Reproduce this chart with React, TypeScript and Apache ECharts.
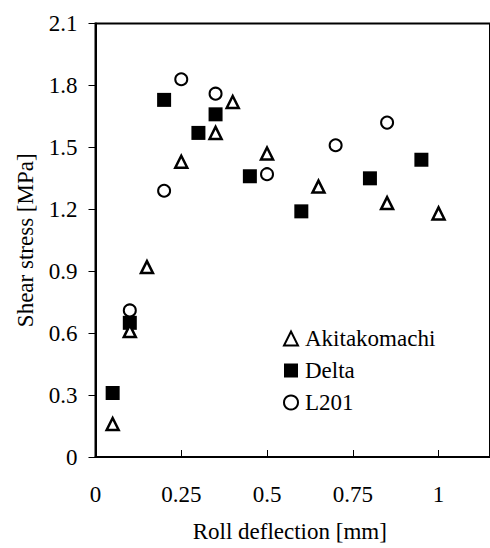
import React, { useEffect, useRef } from "react";
import * as echarts from "echarts";

const akitakomachiX = [0.05, 0.1, 0.15, 0.25, 0.35, 0.4, 0.5, 0.65, 0.85, 1.0];
const akitakomachiY = [0.16, 0.61, 0.92, 1.43, 1.57, 1.72, 1.47, 1.31, 1.23, 1.18];

const deltaX = [0.05, 0.1, 0.2, 0.3, 0.35, 0.45, 0.6, 0.8, 0.95];
const deltaY = [0.31, 0.65, 1.73, 1.57, 1.66, 1.36, 1.19, 1.35, 1.44];

const l201X = [0.1, 0.2, 0.25, 0.35, 0.5, 0.7, 0.85];
const l201Y = [0.71, 1.29, 1.83, 1.76, 1.37, 1.51, 1.62];

const seriesNames = ["Akitakomachi", "Delta", "L201"];
const xTitle = "Roll deflection [mm]";
const yTitle = "Shear stress [MPa]";

const FONT = "Liberation Serif";
const FS = 23;

function pairs(xs: number[], ys: number[]) {
  return xs.map((x, i) => [x, ys[i]]);
}

export default function App() {
  const ref = useRef<HTMLDivElement>(null);
  useEffect(() => {
    if (!ref.current) return;
    const chart = echarts.init(ref.current, null, { renderer: "svg" });
    chart.setOption({
      animation: false,
      backgroundColor: "#ffffff",
      textStyle: { fontFamily: FONT, color: "#000" },
      grid: {
        left: 95.5,
        top: 23.5,
        right: -5,
        bottom: 87,
        show: true,
        borderColor: "#000",
        borderWidth: 2,
        backgroundColor: "transparent",
      },
      legend: {
        orient: "vertical",
        left: 278,
        top: 322,
        padding: 5,
        itemWidth: 14,
        itemHeight: 14,
        itemGap: 9,
        data: seriesNames,
        textStyle: {
          fontFamily: FONT,
          fontSize: FS,
          color: "#000",
          lineHeight: 23,
          padding: [0, 0, 0, 2],
        },
      },
      xAxis: {
        type: "value",
        min: 0,
        max: 1.15,
        interval: 0.25,
        name: xTitle,
        nameLocation: "middle",
        nameGap: 63,
        nameTextStyle: {
          fontFamily: FONT,
          fontSize: FS,
          color: "#000",
          padding: [0, 6, 0, 0],
        },
        axisLine: { show: true, lineStyle: { color: "#000", width: 2 } },
        axisTick: { show: true, inside: true, length: 7, lineStyle: { color: "#000", width: 1 } },
        axisLabel: {
          showMaxLabel: false,
          margin: 26,
          fontFamily: FONT,
          fontSize: FS,
          color: "#000",
        },
        splitLine: { show: false },
      },
      yAxis: {
        type: "value",
        min: 0,
        max: 2.1,
        interval: 0.3,
        name: yTitle,
        nameLocation: "middle",
        nameGap: 59,
        nameTextStyle: { fontFamily: FONT, fontSize: FS, color: "#000" },
        axisLine: { show: true, lineStyle: { color: "#000", width: 2 } },
        axisTick: { show: true, inside: false, length: 7, lineStyle: { color: "#000", width: 1 } },
        axisLabel: {
          margin: 18,
          fontFamily: FONT,
          fontSize: FS,
          color: "#000",
        },
        splitLine: { show: false },
      },
      series: [
        {
          name: seriesNames[0],
          type: "scatter",
          symbol: "triangle",
          symbolSize: 12,
          itemStyle: { color: "#fff", borderColor: "#000", borderWidth: 2.5, opacity: 1 },
          data: pairs(akitakomachiX, akitakomachiY),
          z: 3,
        },
        {
          name: seriesNames[1],
          type: "scatter",
          symbol: "rect",
          symbolSize: 14,
          itemStyle: { color: "#000", opacity: 1 },
          data: pairs(deltaX, deltaY),
          z: 2,
        },
        {
          name: seriesNames[2],
          type: "scatter",
          symbol: "circle",
          symbolSize: 12,
          itemStyle: { color: "#fff", borderColor: "#000", borderWidth: 2, opacity: 1 },
          data: pairs(l201X, l201Y),
          z: 4,
        },
      ],
    });
    return () => chart.dispose();
  }, []);
  return (
    <div
      ref={ref}
      style={{ position: "absolute", left: 0, top: 0, width: 490, height: 548 }}
    />
  );
}
